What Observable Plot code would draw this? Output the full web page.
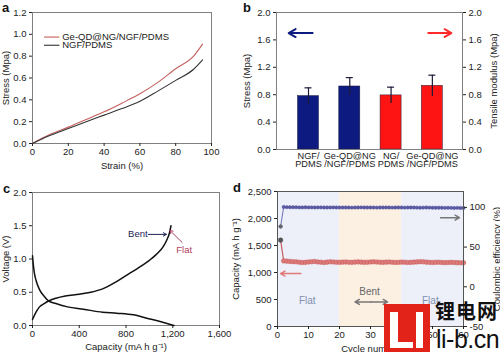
<!DOCTYPE html>
<html><head><meta charset="utf-8">
<script src="https://cdn.jsdelivr.net/npm/d3@7"></script>
<script src="https://cdn.jsdelivr.net/npm/@observablehq/plot@0.6"></script>
<style>
body{margin:0;background:#fff;}
#root{position:relative;width:500px;height:352px;overflow:hidden;font-family:"Liberation Sans",Arial,sans-serif;background:#fff;}
.panel{position:absolute;}
.lbl{position:absolute;font-weight:bold;font-size:13px;line-height:1;color:#111;}
</style></head><body><div id="root"></div>
<script>
// ---------- Panel a: stress-strain ----------
const strainA = [0, 5, 10, 20, 30, 40, 50, 60, 70, 80, 90, 95];
const stressGe = [0, 0.045, 0.085, 0.15, 0.22, 0.29, 0.37, 0.455, 0.56, 0.685, 0.80, 0.91];
const stressNGF = [0, 0.04, 0.075, 0.137, 0.2, 0.26, 0.32, 0.386, 0.48, 0.578, 0.68, 0.766];
const seriesA = ["Ge-QD@NG/NGF/PDMS", "NGF/PDMS"];
const legendAx = [6.7, 15.3, 16.6];
const legendAy = [0.975, 0.90];
const ticksAx = [0, 20, 40, 60, 80, 100];
const ticksAy = [0, 0.2, 0.4, 0.6, 0.8, 1.0, 1.2];

// ---------- Panel b: bars ----------
const labelsB = ["NGF/\nPDMS", "Ge-QD@NG\n/NGF/PDMS", "NG/\nPDMS", "Ge-QD@NG\n/NGF/PDMS"];
const groupB = ["stress", "stress", "modulus", "modulus"];
const valuesB = [0.78, 0.92, 0.79, 0.93];
const errorsB = [0.12, 0.13, 0.12, 0.155];
const ticksBy = [0, 0.4, 0.8, 1.2, 1.6, 2.0];
const arrowBLeft = {x1: 0.10, x2: -0.48, y: 1.7};
const arrowBRight = {x1: 2.90, x2: 3.46, y: 1.7};

// ---------- Panel c: voltage profile ----------
const capCharge = [0, 30, 60, 100, 134, 200, 280, 400, 500, 600, 700, 800, 900, 1000, 1060, 1120, 1150, 1170, 1185];
const voltCharge = [0.09, 0.2, 0.28, 0.33, 0.365, 0.41, 0.445, 0.47, 0.50, 0.55, 0.64, 0.75, 0.86, 0.98, 1.07, 1.19, 1.29, 1.38, 1.50];
const capDischarge = [0, 5, 15, 30, 60, 100, 137, 200, 300, 436, 600, 722, 864, 978, 1092, 1180, 1210];
const voltDischarge = [1.05, 0.95, 0.8, 0.68, 0.54, 0.44, 0.37, 0.33, 0.28, 0.245, 0.2, 0.185, 0.16, 0.11, 0.06, 0.015, 0.0];
const ticksCx = [0, 400, 800, 1200, 1600];
const ticksCy = [0, 0.5, 1.0, 1.5, 2.0];
const noteBent = {x: 985, y: 1.37, ax1: 990, ax2: 1145};
const noteFlat = {x: 1298, y: 1.14, ax1: 1280, ay1: 1.25, ax2: 1175, ay2: 1.43};

// ---------- Panel d: cycling ----------
const cycles = d3.range(1, 61);
const capacityD = [1600, 1215, 1210, 1205, 1200, 1198, 1190, 1185, 1188, 1195, 1200, 1205, 1195, 1190, 1185, 1192, 1198, 1195, 1190, 1188,
  1192, 1195, 1190, 1188, 1193, 1196, 1192, 1188, 1190, 1195, 1198, 1194, 1190, 1188, 1192, 1195, 1190, 1186, 1188, 1192,
  1190, 1186, 1188, 1192, 1196, 1200, 1198, 1192, 1188, 1185, 1188, 1190, 1186, 1183, 1185, 1188, 1184, 1182, 1180, 1180];
const efficiencyD = [76, 100.5, 100.3, 100.2, 100.2, 100.1, 100, 100, 100.1, 100, 100, 99.9, 100, 100, 99.9, 99.8, 99.9, 100, 99.9, 99.8,
  99.8, 99.9, 99.8, 99.7, 99.8, 99.9, 100, 99.9, 99.8, 99.9, 99.8, 99.7, 99.8, 99.9, 99.9, 99.8, 99.7, 99.8, 99.9, 99.8,
  99.7, 99.8, 99.9, 99.8, 99.7, 99.6, 99.7, 99.8, 99.7, 99.6, 99.5, 99.6, 99.5, 99.4, 99.5, 99.4, 99.3, 99.4, 99.3, 99.2];
const zonesD = [{x1: 0, x2: 20, state: "Flat"}, {x1: 20, x2: 40, state: "Bent"}, {x1: 40, x2: 60, state: "Flat"}];
const zoneTextD = [{x: 9.6, y: 480, t: "Flat"}, {x: 29.7, y: 640, t: "Bent"}, {x: 49.3, y: 480, t: "Flat"}];
const bentArrowD = {xc: 30.2, xl: 25, xr: 35.5, y: 455};
const capArrowD = {x1: 7.5, x2: 1, y: 980};
const ceArrowD = {x1: 52.6, x2: 58.7, ce: 87};
const ticksDx = [0, 10, 20, 30, 40, 50, 60];
const ticksDy = [0, 500, 1000, 1500, 2000, 2500];
const ticksDce = [-50, 0, 50, 100];
const ceDomain = [-50, 120];

const FONT = "'Liberation Sans', Arial, sans-serif";
const root = document.getElementById("root");
function place(node, left, top) {
  const div = document.createElement("div");
  div.className = "panel";
  div.style.left = left + "px";
  div.style.top = top + "px";
  div.appendChild(node);
  root.appendChild(div);
}
const baseStyle = {fontFamily: FONT, fontSize: "9px", color: "#222", background: "transparent", overflow: "visible"};
const frameColor = "#808080";

// ===== Panel a =====
const dataA = [];
strainA.forEach((s, i) => {
  dataA.push({s, v: stressGe[i], k: seriesA[0]});
  dataA.push({s, v: stressNGF[i], k: seriesA[1]});
});
const colA = {"Ge-QD@NG/NGF/PDMS": "#c4605e", "NGF/PDMS": "#333333"};
const legA = seriesA.map((k, i) => ({k, x1: legendAx[0], x2: legendAx[1], xt: legendAx[2], y: legendAy[i]}));
const plotA = Plot.plot({
  width: 250, height: 176, marginLeft: 32, marginRight: 39, marginTop: 12, marginBottom: 33,
  style: baseStyle,
  x: {domain: [0, 100]},
  y: {domain: [0, 1.2]},
  marks: [
    Plot.frame({stroke: frameColor}),
    Plot.axisX(ticksAx, {tickSize: 3, tickPadding: 2, label: "Strain (%)", labelAnchor: "center", labelOffset: 25, labelArrow: "none", fontSize: 9.5}),
    Plot.axisY(ticksAy, {tickSize: 3, tickPadding: 3, tickFormat: d3.format(".1f"), label: "Stress (Mpa)", labelAnchor: "center", labelOffset: 30.5, labelArrow: "none", fontSize: 9.5}),
    Plot.line(dataA, {x: "s", y: "v", z: "k", stroke: d => colA[d.k], strokeWidth: 1.1, curve: "monotone-x"}),
    Plot.ruleY(legA, {x1: "x1", x2: "x2", y: "y", stroke: d => colA[d.k], strokeWidth: 1.1}),
    Plot.text(legA, {x: "xt", y: "y", text: "k", textAnchor: "start", fontSize: 9.5, fill: "#222"})
  ]
});
place(plotA, 0, 0);

// ===== Panel b =====
const dataB = labelsB.map((l, i) => ({i, l, g: groupB[i], v: valuesB[i], e: errorsB[i]}));
const colB = {stress: "#0d1a80", modulus: "#ff1414"};
const plotB = Plot.plot({
  width: 262, height: 176, marginLeft: 38, marginRight: 38, marginTop: 12, marginBottom: 27,
  style: baseStyle,
  x: {domain: [-0.775, 3.73]},
  y: {domain: [0, 2.0]},
  marks: [
    Plot.rectY(dataB, {x1: d => d.i - 0.255, x2: d => d.i + 0.255, y1: 0, y2: "v", fill: d => colB[d.g], stroke: "#202040", strokeWidth: 0.5}),
    Plot.ruleX(dataB, {x: "i", y1: d => d.v - d.e, y2: d => d.v + d.e, stroke: "#1a1a3a", strokeWidth: 1.2}),
    Plot.ruleY(dataB, {x1: d => d.i - 0.085, x2: d => d.i + 0.085, y: d => d.v + d.e, stroke: "#1a1a3a", strokeWidth: 1.2}),
    Plot.frame({stroke: frameColor}),
    Plot.axisX([0, 1, 2, 3], {tickSize: 0, tickPadding: 3, tickFormat: i => labelsB[i], lineHeight: 0.95, fontSize: 9.2, label: null}),
    Plot.axisY(ticksBy, {anchor: "left", tickSize: 3, tickPadding: 3, tickFormat: d3.format(".1f"), label: "Stress (Mpa)", labelAnchor: "center", labelOffset: 33, labelArrow: "none", fontSize: 9.5}),
    Plot.axisY(ticksBy, {anchor: "right", tickSize: 3, tickPadding: 3, tickFormat: d3.format(".1f"), label: "Tensile modulus (Mpa)", labelAnchor: "center", labelOffset: 34, labelArrow: "none", fontSize: 9.5}),
    Plot.arrow([arrowBLeft], {x1: "x1", x2: "x2", y1: "y", y2: "y", stroke: "#0d1a80", strokeWidth: 2, headLength: 7, bend: false}),
    Plot.arrow([arrowBRight], {x1: "x1", x2: "x2", y1: "y", y2: "y", stroke: "#ff2a2a", strokeWidth: 2, headLength: 7, bend: false})
  ]
});
place(plotB, 238, 0);

// ===== Panel c =====
const dataC = [
  ...capCharge.map((c, i) => ({c, v: voltCharge[i], k: "charge"})),
  ...capDischarge.map((c, i) => ({c, v: voltDischarge[i], k: "discharge"}))
];
const plotC = Plot.plot({
  width: 250, height: 176, marginLeft: 32, marginRight: 31, marginTop: 16, marginBottom: 27,
  style: baseStyle,
  x: {domain: [0, 1600]},
  y: {domain: [0, 2.0]},
  marks: [
    Plot.frame({stroke: frameColor}),
    Plot.axisX(ticksCx, {tickSize: 3, tickPadding: 2, tickFormat: d3.format(","), label: "Capacity (mA h g\u207B\u00B9)", labelAnchor: "center", labelOffset: 24, labelArrow: "none", fontSize: 9.5}),
    Plot.axisY(ticksCy, {tickSize: 3, tickPadding: 3, tickFormat: d3.format(".1f"), label: "Voltage (V)", labelAnchor: "center", labelOffset: 30.5, labelArrow: "none", fontSize: 9.5}),
    Plot.line(dataC, {x: "c", y: "v", z: "k", stroke: "#111", strokeWidth: 1.5, curve: "monotone-x"}),
    Plot.text([noteBent], {x: "x", y: "y", text: () => "Bent", textAnchor: "end", fill: "#1c2456", fontSize: 9.5}),
    Plot.arrow([noteBent], {x1: "ax1", x2: "ax2", y1: "y", y2: "y", stroke: "#1c2456", strokeWidth: 1, headLength: 5, bend: false}),
    Plot.text([noteFlat], {x: "x", y: "y", text: () => "Flat", fill: "#b04060", fontSize: 9.5}),
    Plot.arrow([noteFlat], {x1: "ax1", y1: "ay1", x2: "ax2", y2: "ay2", stroke: "#b04060", strokeWidth: 1, headLength: 5, bend: false})
  ]
});
place(plotC, 0, 176);

// ===== Panel d =====
const ceScale = d3.scaleLinear().domain(ceDomain).range([0, 2500]);
const dataD = cycles.map((n, i) => ({n, cap: capacityD[i], ce: ceScale(efficiencyD[i])}));
const zoneCol = {Flat: "#edf0f9", Bent: "#fcf0e3"};
const plotD = Plot.plot({
  width: 272, height: 176, marginLeft: 49, marginRight: 37, marginTop: 15, marginBottom: 26,
  style: baseStyle,
  x: {domain: [0, 60]},
  y: {domain: [0, 2500]},
  marks: [
    Plot.rectY(zonesD, {x1: "x1", x2: "x2", y1: 0, y2: 2500, fill: d => zoneCol[d.state]}),
    Plot.line(dataD, {x: "n", y: "ce", stroke: "#7070b8", strokeWidth: 1}),
    Plot.dot(dataD, {x: "n", y: "ce", r: 1.7, fill: "#5a5aa6", stroke: "#4a4a90", strokeWidth: 0.4}),
    Plot.line(dataD, {x: "n", y: "cap", stroke: "#c86060", strokeWidth: 1.2}),
    Plot.dot(dataD, {x: "n", y: "cap", r: 2.3, fill: d => d.n === 1 ? "#555" : "#dd7a7a", stroke: d => d.n === 1 ? "#444" : "#c45858", strokeWidth: 0.5}),
    Plot.dot(dataD.filter(d => d.n === 1), {x: "n", y: "ce", r: 2, fill: "#666"}),
    Plot.frame({stroke: "#555"}),
    Plot.axisX(ticksDx, {tickSize: 3, tickPadding: 2, label: "Cycle number", labelAnchor: "center", labelOffset: 25, labelArrow: "none", fontSize: 9.5}),
    Plot.axisY(ticksDy, {anchor: "left", tickSize: 3, tickPadding: 3, tickFormat: d3.format(","), label: "Capacity (mA h g\u207B\u00B9)", labelAnchor: "center", labelOffset: 45, labelArrow: "none", fontSize: 9.5}),
    Plot.axisY(ticksDce.map(v => ceScale(v)), {anchor: "right", tickSize: 3, tickPadding: 3, tickFormat: v => Math.round(ceScale.invert(v)), label: "Coulombic efficiency (%)", labelAnchor: "center", labelOffset: 36, labelArrow: "none", fontSize: 9.5}),
    Plot.text(zoneTextD, {x: "x", y: "y", text: "t", fill: d => d.t === "Bent" ? "#666" : "#8090b0", fontSize: 10}),
    Plot.arrow([bentArrowD], {x1: "xc", x2: "xl", y1: "y", y2: "y", stroke: "#777", strokeWidth: 1.5, headLength: 5, bend: false}),
    Plot.arrow([bentArrowD], {x1: "xc", x2: "xr", y1: "y", y2: "y", stroke: "#777", strokeWidth: 1.5, headLength: 5, bend: false}),
    Plot.arrow([capArrowD], {x1: "x1", x2: "x2", y1: "y", y2: "y", stroke: "#e07878", strokeWidth: 1.5, headLength: 5, bend: false}),
    Plot.arrow([ceArrowD], {x1: "x1", x2: "x2", y1: d => ceScale(d.ce), y2: d => ceScale(d.ce), stroke: "#777", strokeWidth: 1.5, headLength: 5, bend: false})
  ]
});
place(plotD, 228, 176);

// ===== panel letters =====
[["a", 2, 1], ["b", 243, 1], ["c", 3, 182], ["d", 233, 181]].forEach(([t, x, y]) => {
  const s = document.createElement("div");
  s.className = "lbl"; s.textContent = t; s.style.left = x + "px"; s.style.top = y + "px";
  root.appendChild(s);
});

// ===== watermark =====
const wm = document.createElement("div");
wm.innerHTML = `
<div style="position:absolute;left:384px;top:304px;width:46px;height:48px;background:#e2231a;"></div>
<div style="position:absolute;left:390px;top:312px;width:8px;height:36px;background:#fff;"></div>
<div style="position:absolute;left:390px;top:342px;width:23px;height:6px;background:#fff;"></div>
<div style="position:absolute;left:416px;top:312px;width:7px;height:36px;background:#fff;"></div>
<div style="position:absolute;left:435px;top:301px;font-family:'Noto Sans CJK SC';font-weight:bold;font-size:20px;line-height:1;color:#111;letter-spacing:1px;">锂电网</div>
<div style="position:absolute;left:436px;top:327px;font-family:'Liberation Sans',Arial;font-size:25px;line-height:1;color:#111;letter-spacing:-0.5px;">li-b.cn</div>`;
root.appendChild(wm);
</script></body></html>
